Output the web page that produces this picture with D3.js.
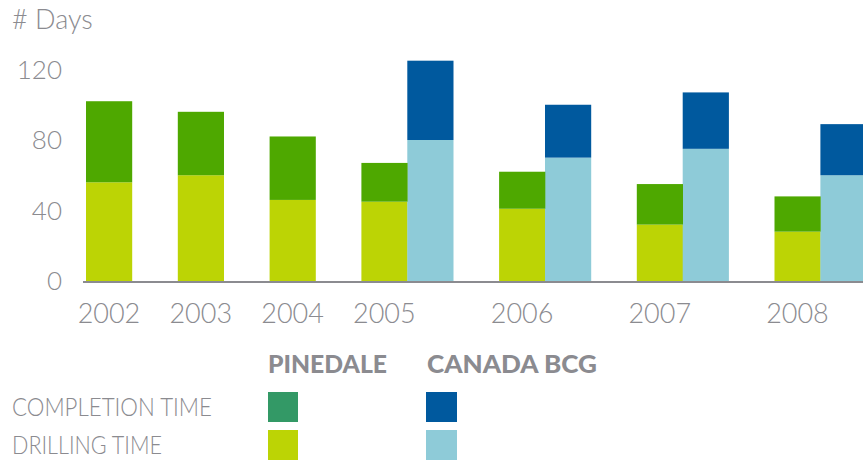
<!DOCTYPE html>
<html>
<head>
<meta charset="utf-8">
<script src="https://cdn.jsdelivr.net/npm/d3@7"></script>
<style>
  body { margin: 0; background: #fff; }
  svg { display: block; font-family: "Lato", "DejaVu Sans", sans-serif; }
  .lbl { fill: #8b8b90; }
</style>
</head>
<body>
<svg width="863" height="471"></svg>
<script>
// values (days)
const years = ["2002", "2003", "2004", "2005", "2006", "2007", "2008"];
const pinedaleDrilling   = [56, 60, 46, 45, 41, 32, 28];
const pinedaleCompletion = [46, 36, 36, 22, 21, 23, 20];
const canadaDrilling     = [null, null, null, 80, 70, 75, 60];
const canadaCompletion   = [null, null, null, 45, 30, 32, 29];
const yTicks = [0, 40, 80, 120];

const colors = {
  pinedaleDrilling: "#bcd405",
  pinedaleCompletion: "#4ea800",
  pinedaleCompletionKey: "#339966",
  canadaDrilling: "#8ecbd8",
  canadaCompletion: "#00599e"
};

const svg = d3.select("svg");

// each bar takes one slot, groups are separated by an empty slot
const bars = [];
let slot = 0;
years.forEach((yr, i) => {
  bars.push({ year: yr, slot: slot, drill: pinedaleDrilling[i], comp: pinedaleCompletion[i], site: "pinedale" });
  if (canadaDrilling[i] != null) {
    bars.push({ year: yr, slot: slot + 1, drill: canadaDrilling[i], comp: canadaCompletion[i], site: "canada" });
    slot += 3;
  } else {
    slot += 2;
  }
});
const nSlots = slot - 1;

const x = d3.scaleLinear().domain([0, nSlots]).range([86, 86 + nSlots * 45.9]);
const y = d3.scaleLinear().domain([0, 120]).range([281, 69.5]);
const bw = x(1) - x(0);

const chart = svg.append("g");

// drilling part
chart.selectAll(".drill")
  .data(bars)
  .enter().append("rect")
  .attr("x", d => x(d.slot))
  .attr("y", d => y(d.drill))
  .attr("width", bw + 0.3)
  .attr("height", d => y(0) - y(d.drill))
  .attr("fill", d => d.site === "pinedale" ? colors.pinedaleDrilling : colors.canadaDrilling);

// completion part on top
chart.selectAll(".comp")
  .data(bars)
  .enter().append("rect")
  .attr("x", d => x(d.slot))
  .attr("y", d => y(d.drill + d.comp))
  .attr("width", bw + 0.3)
  .attr("height", d => y(d.drill) - y(d.drill + d.comp))
  .attr("fill", d => d.site === "pinedale" ? colors.pinedaleCompletion : colors.canadaCompletion);

// baseline
chart.append("line")
  .attr("x1", 83).attr("x2", 863)
  .attr("y1", y(0) + 1).attr("y2", y(0) + 1)
  .attr("stroke", "#8b8b90")
  .attr("stroke-width", 2);

// y axis labels
svg.selectAll(".ytick")
  .data(yTicks)
  .enter().append("text")
  .attr("class", "lbl")
  .attr("x", 62)
  .attr("y", d => y(d))
  .attr("dy", "0.36em")
  .attr("text-anchor", "end")
  .style("font-size", "26px")
  .style("font-weight", 300)
  .text(d => d);

// year labels, centred under the Pinedale bar
svg.selectAll(".xtick")
  .data(bars.filter(d => d.site === "pinedale"))
  .enter().append("text")
  .attr("class", "lbl")
  .attr("x", d => x(d.slot) + bw / 2)
  .attr("y", 323)
  .attr("text-anchor", "middle")
  .style("font-size", "27px")
  .style("font-weight", 300)
  .text(d => d.year);

svg.append("text")
  .attr("class", "lbl")
  .attr("x", 12)
  .attr("y", 29)
  .style("font-size", "27px")
  .style("font-weight", 300)
  .text("# Days");

// legend
const legend = svg.append("g");
legend.append("text").attr("class", "lbl")
  .attr("x", 268).attr("y", 373)
  .attr("textLength", 119).attr("lengthAdjust", "spacingAndGlyphs")
  .style("font-size", "24px").style("font-weight", 900)
  .text("PINEDALE");
legend.append("text").attr("class", "lbl")
  .attr("x", 427).attr("y", 373)
  .attr("textLength", 170).attr("lengthAdjust", "spacingAndGlyphs")
  .style("font-size", "24px").style("font-weight", 900)
  .text("CANADA BCG");

const rows = [
  { label: "COMPLETION TIME", y: 392, w: 200, c1: colors.pinedaleCompletionKey, c2: colors.canadaCompletion },
  { label: "DRILLING TIME", y: 430, w: 150, c1: colors.pinedaleDrilling, c2: colors.canadaDrilling }
];
rows.forEach(r => {
  legend.append("text").attr("class", "lbl")
    .attr("x", 12).attr("y", r.y + 24)
    .attr("textLength", r.w).attr("lengthAdjust", "spacingAndGlyphs")
    .style("font-size", "26px").style("font-weight", 300)
    .text(r.label);
  legend.append("rect").attr("x", 268).attr("y", r.y).attr("width", 30).attr("height", 30).attr("fill", r.c1);
  legend.append("rect").attr("x", 426).attr("y", r.y).attr("width", 31).attr("height", 30).attr("fill", r.c2);
});
</script>
</body>
</html>
